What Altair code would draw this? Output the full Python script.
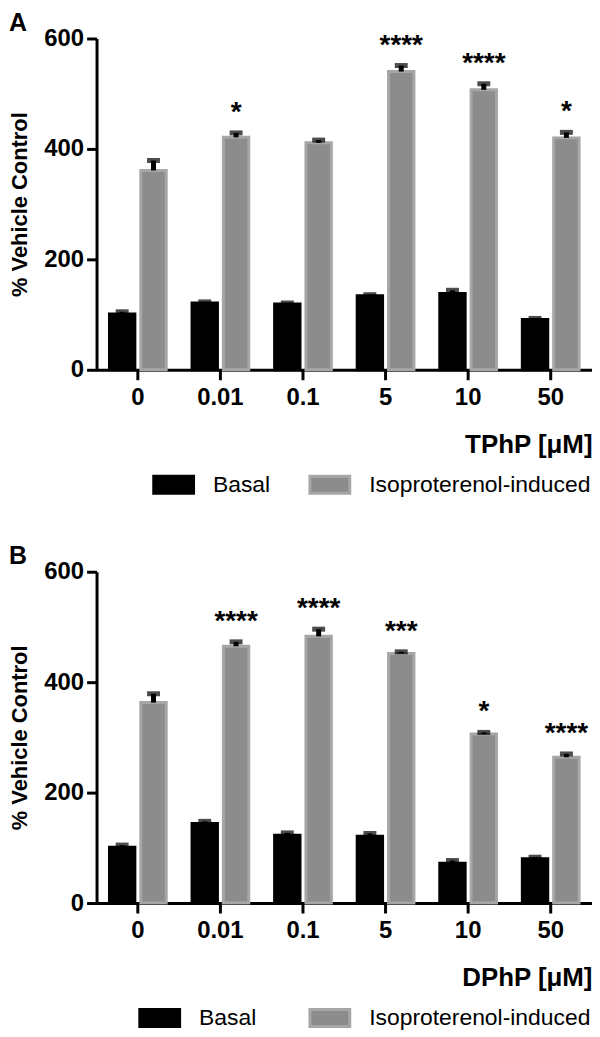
import altair as alt
import pandas as pd

conc = ["0", "0.01", "0.1", "5", "10", "50"]
groups = ["Basal", "Isoproterenol-induced"]

tphp_basal = [101, 121, 119, 134, 138, 91]
tphp_basal_err = [4, 2, 2, 2, 6, 2]
tphp_iso = [361, 421, 411, 540, 507, 420]
tphp_iso_err = [18, 8, 5, 11, 11, 10]
tphp_sig = ["", "*", "", "****", "****", "*"]

dphp_basal = [101, 144, 123, 121, 72, 80]
dphp_basal_err = [4, 4, 4, 5, 5, 3]
dphp_iso = [363, 465, 483, 452, 306, 264]
dphp_iso_err = [16, 8, 13, 3, 3, 6]
dphp_sig = ["", "****", "****", "***", "*", "****"]

FONT = "Liberation Sans"


def panel(letter, xtitle, basal, berr, iso, ierr, sig, leg_x, col_pad):
    rows = []
    for i, c in enumerate(conc):
        rows.append(dict(conc=c, group=groups[0], value=basal[i],
                         top=basal[i] + berr[i], sig=""))
        rows.append(dict(conc=c, group=groups[1], value=iso[i],
                         top=iso[i] + ierr[i], sig=sig[i]))
    df = pd.DataFrame(rows)

    xenc = alt.X("conc:N", sort=conc,
                 scale=alt.Scale(paddingInner=0.313, paddingOuter=0.1565),
                 axis=alt.Axis(title=xtitle, labelAngle=0, titleAnchor="end",
                               titleFontSize=26, titlePadding=22,
                               labelPadding=6))
    xoff = alt.XOffset("group:N", sort=groups,
                       scale=alt.Scale(paddingInner=0.19, paddingOuter=0))
    yscale = alt.Scale(domain=[0, 600], nice=False)
    yenc = alt.Y("value:Q", scale=yscale,
                 axis=alt.Axis(values=[0, 200, 400, 600], title="% Vehicle Control",
                               titleFontSize=22, titlePadding=12, labelPadding=3))

    leg = alt.Legend(orient="none", legendX=leg_x, legendY=427, direction="horizontal",
                     title=None, labelLimit=400,
                     symbolType="M-1,-0.425H1V0.425H-1Z", symbolSize=1600,
                     symbolStrokeWidth=3, labelFont=FONT, labelFontSize=23,
                     labelFontWeight="normal", labelColor="black",
                     labelOffset=18, columnPadding=col_pad)

    base = alt.Chart(df).encode(x=xenc, xOffset=xoff)

    bars = base.mark_bar(strokeWidth=3).encode(
        y=yenc,
        fill=alt.Fill("group:N", sort=groups,
                      scale=alt.Scale(domain=groups, range=["#000000", "#8c8c8c"]),
                      legend=leg),
        stroke=alt.Stroke("group:N", sort=groups,
                          scale=alt.Scale(domain=groups, range=["#000000", "#a6a6a6"]),
                          legend=leg),
    )
    stems = base.mark_rule(strokeWidth=5, color="black").encode(
        y=alt.Y("value:Q", scale=yscale), y2="top:Q")
    caps = base.mark_tick(thickness=5, size=13, color="black").encode(
        y=alt.Y("top:Q", scale=yscale))
    stars = base.transform_filter(alt.datum.sig != "").mark_text(
        font=FONT, fontSize=28, fontWeight="bold", color="black",
        baseline="alphabetic", dy=-12).encode(
        y=alt.Y("top:Q", scale=yscale), text="sig:N")

    return alt.layer(bars, stems, caps, stars).properties(
        width=498, height=333,
        title=alt.TitleParams(letter, anchor="start", frame="bounds",
                              font=FONT, fontSize=25, fontWeight="bold",
                              color="black", offset=-9),
    )


a = panel("A", "TPhP [μM]", tphp_basal, tphp_basal_err, tphp_iso, tphp_iso_err,
          tphp_sig, 56, 33)
b = panel("B", "DPhP [μM]", dphp_basal, dphp_basal_err, dphp_iso, dphp_iso_err,
          dphp_sig, 42, 47)

chart = alt.vconcat(a, b, spacing=45).resolve_scale(
    x="independent", y="independent", xOffset="independent",
    fill="independent", stroke="independent"
).resolve_legend(fill="independent", stroke="independent").properties(
    padding=0
).configure_view(stroke=None).configure_axis(
    labelFont=FONT, titleFont=FONT, labelFontSize=24, labelFontWeight="bold",
    titleFontWeight="bold", labelColor="black", titleColor="black",
    domainColor="black", tickColor="black", domainWidth=3, tickWidth=3,
    tickSize=10, grid=False
)

chart.save("out.html", embed_options={"renderer": "svg", "actions": False})
